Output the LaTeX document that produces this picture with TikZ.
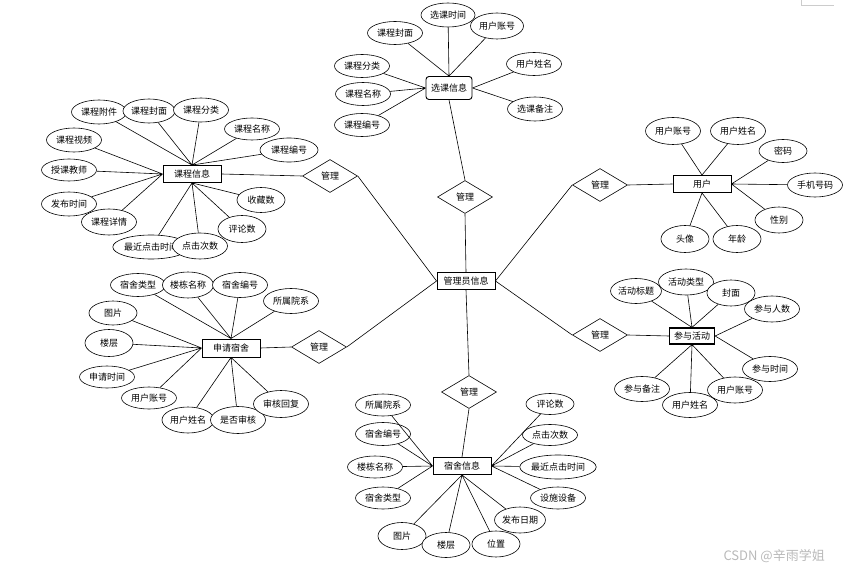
\documentclass[tikz,border=0pt]{standalone}
\usepackage{fontspec}
\usepackage{tikz}
\usetikzlibrary{shapes.geometric}
\newfontfamily\cjk{Noto Sans CJK SC}

\tikzset{
  ent/.style={draw, line width=0.9pt, fill=white, minimum width=58pt, minimum height=17pt, inner sep=1pt},
  attr/.style={draw, ellipse, line width=0.6pt, fill=white, minimum width=55pt, minimum height=24pt, inner sep=0pt},
  sattr/.style={attr, minimum width=48pt},
  rel/.style={draw, diamond, line width=0.6pt, fill=white, minimum width=55pt, minimum height=33pt, inner sep=0pt},
  link/.style={line width=0.6pt}
}

\begin{document}
\begin{tikzpicture}[x=1pt, y=-1pt, font=\cjk\fontsize{9}{10}\selectfont]
  \useasboundingbox (0,0) rectangle (849,572);

  % Admin and relations
  \node[ent] (admin) at (466,281) {管理员信息};
  \node[rel] (rc) at (330,176) {管理};
  \node[rel] (rt) at (465,197) {管理};
  \node[rel] (rd) at (319,347) {管理};
  \node[rel] (ru) at (600,185) {管理};
  \node[rel] (ra) at (600,335) {管理};
  \node[rel] (rb) at (469,392) {管理};

  % Course
  \node[ent] (course) at (192,174) {课程信息};
  \node[attr] (cfj) at (99,112) {课程附件};
  \node[attr, minimum width=52pt] (cfm) at (149,111) {课程封面};
  \node[attr] (cfl) at (201,110) {课程分类};
  \node[attr, minimum height=22pt] (cmc) at (252,129) {课程名称};
  \node[attr, minimum width=58pt] (cbh) at (289,150) {课程编号};
  \node[attr] (csp) at (74,140) {课程视频};
  \node[attr, minimum height=22pt] (cjs) at (69,170) {授课教师};
  \node[attr] (cfb) at (69,204) {发布时间};
  \node[attr, minimum height=26pt] (cxq) at (109,222) {课程详情};
  \node[attr] (czj) at (151,247) {最近点击时间};
  \node[attr, minimum height=26pt] (cdj) at (200,246) {点击次数};
  \node[sattr, minimum height=25pt] (csc) at (261,200) {收藏数};
  \node[sattr, minimum height=27pt] (cpl) at (242,229) {评论数};

  % Selection
  \node[ent, rounded corners=3pt, minimum width=46pt, minimum height=23pt] (sel) at (449,88) {选课信息};
  \node[attr, minimum height=23pt] (s1) at (395,33) {课程封面};
  \node[attr, minimum width=54pt] (s2) at (448,15) {选课时间};
  \node[attr, minimum width=53pt, minimum height=26pt] (s3) at (497,26) {用户账号};
  \node[attr, minimum height=23pt] (s4) at (362,66) {课程分类};
  \node[attr, minimum height=23pt] (s5) at (363,94) {课程名称};
  \node[attr, minimum height=23pt] (s6) at (362,125) {课程编号};
  \node[attr, minimum height=23pt] (s7) at (534,64) {用户姓名};
  \node[attr, minimum height=24pt] (s8) at (535,109) {选课备注};

  % User
  \node[ent] (user) at (702,184) {用户};
  \node[attr, minimum height=27pt] (u1) at (673,131) {用户账号};
  \node[attr, minimum height=27pt] (u2) at (738,131) {用户姓名};
  \node[sattr, minimum height=23pt] (u3) at (783,151) {密码};
  \node[attr] (u4) at (815,185) {手机号码};
  \node[sattr, minimum height=26pt] (u5) at (779,220) {性别};
  \node[sattr, minimum height=27pt] (u6) at (685,239) {头像};
  \node[sattr, minimum height=27pt] (u7) at (737,239) {年龄};

  % Apply for dorm
  \node[ent, minimum height=18pt] (apply) at (231,348) {申请宿舍};
  \node[attr, minimum height=23pt] (a1) at (138,285) {宿舍类型};
  \node[attr, minimum width=51pt, minimum height=26pt] (a2) at (188,285) {楼栋名称};
  \node[attr, minimum height=25pt] (a3) at (240,285) {宿舍编号};
  \node[attr, minimum height=25pt] (a4) at (291,301) {所属院系};
  \node[sattr] (a5) at (113,313) {图片};
  \node[sattr, minimum height=27pt] (a6) at (109,343) {楼层};
  \node[attr, minimum height=22pt] (a7) at (107,377) {申请时间};
  \node[attr, minimum height=22pt] (a8) at (149,398) {用户账号};
  \node[attr, minimum width=52pt, minimum height=26pt] (a9) at (188,420) {用户姓名};
  \node[attr, minimum height=27pt] (a10) at (238,420) {是否审核};
  \node[attr, minimum height=27pt] (a11) at (281,404) {审核回复};

  % Activity
  \node[ent, line width=1.2pt, minimum width=45pt, minimum height=16pt] (act) at (692,336) {参与活动};
  \node[sattr, minimum height=25pt] (p1) at (636,291) {活动标题};
  \node[attr, minimum height=26pt] (p2) at (686,282) {活动类型};
  \node[sattr, minimum height=26pt] (p3) at (731,293) {封面};
  \node[attr, minimum height=26pt] (p4) at (772,309) {参与人数};
  \node[attr, minimum height=25pt] (p5) at (770,369) {参与时间};
  \node[attr, minimum height=25pt] (p6) at (642,389) {参与备注};
  \node[attr, minimum height=26pt] (p8) at (735,390) {用户账号};
  \node[attr, minimum height=25pt] (p7) at (690,405) {用户姓名};

  % Dorm
  \node[ent] (dorm) at (462,466) {宿舍信息};
  \node[attr, minimum height=22pt] (d1) at (383,405) {所属院系};
  \node[attr, minimum height=23pt] (d2) at (383,434) {宿舍编号};
  \node[attr, minimum height=22pt] (d3) at (375,467) {楼栋名称};
  \node[attr, minimum height=22pt] (d4) at (383,498) {宿舍类型};
  \node[sattr, minimum height=27pt] (d5) at (402,536) {图片};
  \node[sattr, minimum height=25pt] (d6) at (446,545) {楼层};
  \node[sattr, minimum height=26pt] (d7) at (496,544) {位置};
  \node[attr, minimum width=50pt, minimum height=26pt] (d8) at (520,520) {发布日期};
  \node[sattr, minimum height=21pt] (d9) at (550,404) {评论数};
  \node[attr, minimum height=21pt] (d10) at (550,435) {点击次数};
  \node[attr, minimum width=74pt] (d11) at (558,467) {最近点击时间};
  \node[attr, minimum height=22pt] (d12) at (558,498) {设施设备};

  % Admin links
  \draw[link] (admin.north) -- (rt.south);
  \draw[link] (rt.north) -- (sel.south);
  \draw[link] (admin.west) -- (rc.east);
  \draw[link] (rc.west) -- (course.east);
  \draw[link] (admin.west) -- (rd.east);
  \draw[link] (rd.west) -- (apply.east);
  \draw[link] (admin.east) -- (ru.west);
  \draw[link] (ru.east) -- (user.west);
  \draw[link] (admin.east) -- (ra.west);
  \draw[link] (ra.east) -- (act.west);
  \draw[link] (admin.south) -- (rb.north);
  \draw[link] (rb.south) -- (dorm.north);

  % Attribute links
  \draw[link] (cfj) -- (course.north) (cfm) -- (course.north) (cfl) -- (course.north)
    (cmc) -- (course.north) (cbh) -- (course.north);
  \draw[link] (csp) -- (course.west) (cjs) -- (course.west) (cfb) -- (course.west) (cxq) -- (course.west);
  \draw[link] (czj) -- (course.south) (cdj) -- (course.south) (csc) -- (course.south) (cpl) -- (course.south);

  \draw[link] (s1) -- (sel.north) (s2) -- (sel.north) (s3) -- (sel.north);
  \draw[link] (s4) -- (sel.west) (s5) -- (sel.west) (s6) -- (sel.west);
  \draw[link] (s7) -- (sel.east) (s8) -- (sel.east);

  \draw[link] (u1) -- (user.north) (u2) -- (user.north);
  \draw[link] (u3) -- (user.east) (u4) -- (user.east) (u5) -- (user.east);
  \draw[link] (u6) -- (user.south) (u7) -- (user.south);

  \draw[link] (a1) -- (apply.north) (a2) -- (apply.north) (a3) -- (apply.north) (a4) -- (apply.north);
  \draw[link] (a5) -- (apply.west) (a6) -- (apply.west) (a7) -- (apply.west) (a8) -- (apply.west);
  \draw[link] (a9) -- (apply.south) (a10) -- (apply.south) (a11) -- (apply.south);

  \draw[link] (p1) -- (act.north) (p2) -- (act.north) (p3) -- (act.north);
  \draw[link] (p4) -- (act.east) (p5) -- (act.east);
  \draw[link] (p6) -- (act.south) (p7) -- (act.south) (p8) -- (act.south);

  \draw[link] (d1) -- (dorm.west) (d2) -- (dorm.west) (d3) -- (dorm.west) (d4) -- (dorm.west);
  \draw[link] (d9) -- (dorm.east) (d10) -- (dorm.east) (d11) -- (dorm.east) (d12) -- (dorm.east);
  \draw[link] (d5) -- (dorm.south) (d6) -- (dorm.south) (d7) -- (dorm.south) (d8) -- (dorm.south);

  % Corner mark and watermark
  \draw[gray!40] (801,0) -- (801,5) -- (834,5);
  \node[anchor=west, text=gray!55, font=\cjk\fontsize{13}{14}\selectfont] (mark) at (720,556) {CSDN @辛雨学姐};
\end{tikzpicture}
\end{document}
